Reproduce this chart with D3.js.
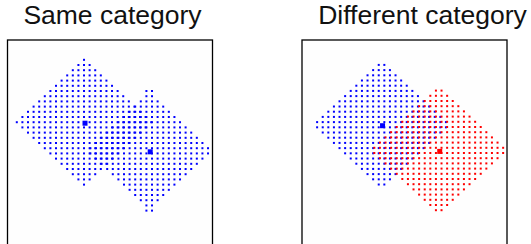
<!DOCTYPE html>
<meta charset="utf-8">
<style>
body { margin: 0; background: #fff; }
.title { font-family: "Liberation Sans", Arial, sans-serif; font-size: 26.5px; fill: #111; }
.frame { fill: #fefefe; stroke: #000; stroke-width: 1.3px; }
</style>
<body>
<script src="https://d3js.org/d3.v7.min.js"></script>
<script>

// panel titles
var panelTitles = ["Same category", "Different category"];

// one entry per category cluster (grid units)
var clusterPanel = [0, 0, 1, 1];
var clusterColor = ["#0000ff", "#0000ff", "#0000ff", "#ff0000"];
var centerX = [13.66, 25.30, 14.20, 24.41];
var centerY = [15.81, 21.31, 16.29, 21.23];
var gridOffset = [0, 0.5, 0.5, 0.5];
var radiusX = [12, 11, 12.05, 12.05];
var radiusY = [12, 12.1, 12.05, 12.05];

var width = 531, height = 244;
var boxLeft = [7.5, 302], boxTop = 40, boxW = 205, boxH = 208;
var titleX = [112.5, 422.5];

var svg = d3.select("body").append("svg")
    .attr("width", width)
    .attr("height", height);

// exemplars of a category: grid points inside a diamond around its centre
function members(k) {
  var pts = [];
  for (var i = -14; i <= 14; i++) {
    for (var j = -14; j <= 14; j++) {
      var a = i + gridOffset[k], b = j + gridOffset[k];
      if (Math.abs(a) / radiusX[k] + Math.abs(b) / radiusY[k] <= 1 + 1e-9)
        pts.push([centerX[k] + a, centerY[k] + b]);
    }
  }
  return pts;
}

panelTitles.forEach(function(title, p) {
  var x = d3.scaleLinear().domain([0, 36.6]).range([boxLeft[p], boxLeft[p] + boxW]);
  var y = d3.scaleLinear().domain([0, 40]).range([boxTop, boxTop + boxH]);

  var g = svg.append("g");

  g.append("rect")
      .attr("class", "frame")
      .attr("x", boxLeft[p])
      .attr("y", boxTop)
      .attr("width", boxW)
      .attr("height", boxH);

  g.append("text")
      .attr("class", "title")
      .attr("x", titleX[p])
      .attr("y", 23.5)
      .attr("text-anchor", "middle")
      .text(title);

  var ks = d3.range(centerX.length).filter(function(k) { return clusterPanel[k] === p; });

  ks.forEach(function(k) {
    g.append("g").selectAll("rect")
        .data(members(k))
      .enter().append("rect")
        .attr("x", function(d) { return x(d[0]) - 1; })
        .attr("y", function(d) { return y(d[1]) - 1; })
        .attr("width", 2)
        .attr("height", 2)
        .style("fill", clusterColor[k]);
  });

  // category prototypes
  ks.forEach(function(k) {
    g.append("rect")
        .attr("x", x(centerX[k]) - 1.5)
        .attr("y", y(centerY[k]) - 1.5)
        .attr("width", 5)
        .attr("height", 5)
        .style("fill", clusterColor[k]);
  });
});

</script>
</body>
